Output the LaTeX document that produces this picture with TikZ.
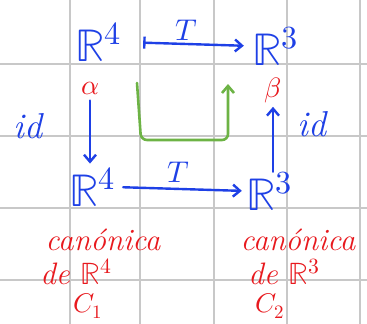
\documentclass[tikz,border=0pt]{standalone}
\usepackage{unicode-math}
\setmathfont{Latin Modern Math}
\usetikzlibrary{arrows.meta}
\definecolor{inkblue}{HTML}{1E40E6}
\definecolor{inkred}{HTML}{E8191E}
\definecolor{inkgreen}{HTML}{6DB345}
\definecolor{gridgray}{HTML}{C8C8C8}
\tikzset{
  big/.style={text=inkblue, font=\fontsize{46}{50}\selectfont, inner sep=0pt},
  lbl/.style={text=inkblue, font=\fontsize{36}{40}\selectfont\itshape, inner sep=0pt},
  tl/.style={text=inkblue, font=\fontsize{30}{34}\selectfont, inner sep=0pt},
  rtext/.style={text=inkred, font=\fontsize{31}{34}\selectfont\itshape, inner sep=0pt},
  rsub/.style={text=inkred, font=\fontsize{27}{30}\selectfont, inner sep=0pt},
  rsym/.style={text=inkred, font=\fontsize{28}{32}\selectfont, inner sep=0pt},
  arr/.style={draw=inkblue, line width=2.4pt, line cap=round, -{Straight Barb[length=7pt,width=12pt]}},
  gridline/.style={draw=gridgray, line width=1.2pt}
}
\begin{document}
\begin{tikzpicture}[x=1pt,y=-1pt]
\useasboundingbox (0,0) rectangle (367,324);
\fill[white] (0,0) rectangle (367,324);
% grid
\foreach \gx in {70,140,214,287,360} \draw[gridline] (\gx,0) -- (\gx,324);
\foreach \gy in {64,136,208,280} \draw[gridline] (0,\gy) -- (367,\gy);
% nodes
\node[big] (A) at (98,42) {$\mathbb{R}^4$};
\node[big] (B) at (275,46) {$\mathbb{R}^3$};
\node[big] (C) at (92,187) {$\mathbb{R}^4$};
\node[big] (D) at (269,191) {$\mathbb{R}^3$};
\node[rsym] (al) at (90,88) {$\alpha$};
\node[rsym] (be) at (273,90) {$\beta$};
\node[tl] (T1) at (186,30) {$T$};
\node[tl] (T2) at (178,172) {$T$};
\node[lbl] (id1) at (28,126) {id};
\node[lbl] (id2) at (312,124) {id};
% arrows
\draw[arr, {Bar[width=12pt]}-{Straight Barb[length=7pt,width=12pt]}, shorten <=22pt, shorten >=8pt] (A.east) -- (B.west);
\draw[arr, shorten <=8pt, shorten >=4pt] (C.east) -- (D.west);
\draw[arr, shorten <=6pt, shorten >=4pt] (al.south) -- (C.north -| al.south);
\draw[arr, shorten <=0pt, shorten >=4pt] (D.north -| be.south) -- (be.south);
% green path
\coordinate (g1) at (137,83);
\coordinate (g2) at (141,140);
\coordinate (g3) at (228,140);
\coordinate (g4) at (228,84);
\draw[draw=inkgreen, line width=2.6pt, line cap=round, rounded corners=6pt, -{Straight Barb[length=7pt,width=12pt]}] (g1) -- (g2) -- (g3) -- (g4);
% red texts
\node[rtext] (c1a) at (103,240) {canónica};
\node[rtext] (c1b) at (76,272) {de $\mathbb{R}^4$};
\node[rsub] (c1c) at (88,306) {$C_1$};
\node[rtext] (c2a) at (298,240) {canónica};
\node[rtext] (c2b) at (284,272) {de $\mathbb{R}^3$};
\node[rsub] (c2c) at (270,306) {$C_2$};
\end{tikzpicture}
\end{document}
